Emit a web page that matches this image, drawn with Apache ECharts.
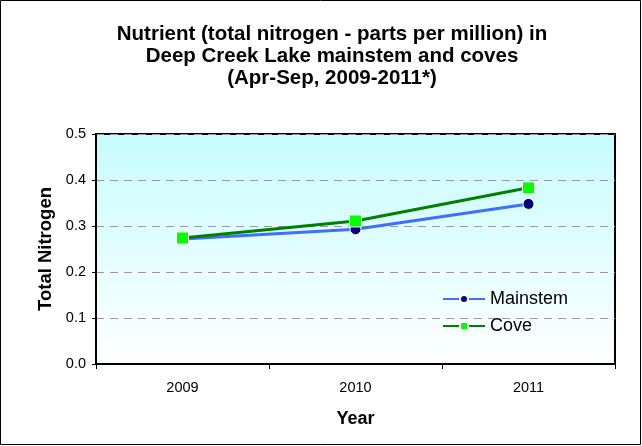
<!DOCTYPE html>
<html><head><meta charset="utf-8">
<script src="https://cdn.jsdelivr.net/npm/echarts@6/dist/echarts.min.js"></script>
<style>html,body{margin:0;padding:0;background:#fff}#c{width:642px;height:446px}</style>
</head><body><div id="c"></div>
<script>
var years = ['2009', '2010', '2011'];
var mainstem = [0.272, 0.293, 0.348];
var cove = [0.274, 0.311, 0.383];
var yTicks = [0, 0.1, 0.2, 0.3, 0.4, 0.5];

var chart = echarts.init(document.getElementById('c'), null, {renderer: 'canvas'});
var font = 'Liberation Sans, Arial, sans-serif';
chart.setOption({
  animation: false,
  backgroundColor: '#fff',
  graphic: [{type: 'rect', shape: {x: 0.5, y: 0.5, width: 640, height: 444}, style: {fill: 'none', stroke: '#000', lineWidth: 1}, z: 100}],
  title: {
    text: 'Nutrient (total nitrogen - parts per million) in\nDeep Creek Lake mainstem and coves\n(Apr-Sep, 2009-2011*)',
    left: 327, textAlign: 'center', top: 18,
    textStyle: {fontFamily: font, fontSize: 20.5, fontWeight: 'bold', color: '#000', lineHeight: 22}
  },
  grid: {
    left: 96, right: 27, top: 134, bottom: 82, show: true,
    borderColor: '#000', borderWidth: 2,
    backgroundColor: {type: 'linear', x: 0, y: 0, x2: 0, y2: 1, colorStops: [{offset: 0, color: '#c6fcfe'}, {offset: 1, color: '#ffffff'}]}
  },
  legend: {
    orient: 'vertical', left: 437, top: 285, itemGap: 9,
    itemWidth: 42, itemHeight: 10,
    textStyle: {fontFamily: font, fontSize: 18, color: '#000'},
    data: ['Mainstem', 'Cove']
  },
  xAxis: {
    type: 'category', data: years, boundaryGap: true,
    name: 'Year', nameLocation: 'middle', nameGap: 46,
    nameTextStyle: {fontFamily: font, fontSize: 18, fontWeight: 'bold', color: '#000'},
    axisLine: {lineStyle: {color: '#000', width: 2}},
    axisTick: {show: true, length: 5, lineStyle: {color: '#000'}},
    axisLabel: {fontFamily: font, fontSize: 14.5, color: '#000', margin: 16}
  },
  yAxis: {
    type: 'value', min: 0, max: 0.5, interval: 0.1,
    name: 'Total Nitrogen', nameLocation: 'middle', nameGap: 40,
    nameTextStyle: {fontFamily: font, fontSize: 18.5, fontWeight: 'bold', color: '#000'},
    axisLine: {show: true, lineStyle: {color: '#000', width: 2}},
    axisTick: {show: true, length: 4, lineStyle: {color: '#000'}},
    axisLabel: {fontFamily: font, fontSize: 14.5, color: '#000', margin: 10,
      formatter: function (v) { return v.toFixed(1); }},
    splitLine: {show: true, lineStyle: {color: '#999', type: [8, 6], width: 1}}
  },
  series: [
    {name: 'Mainstem', type: 'line', data: mainstem, symbol: 'circle', symbolSize: 11,
     lineStyle: {color: '#3f6fff', width: 3},
     itemStyle: {color: '#000080', borderColor: '#fff', borderWidth: 1}, z: 2},
    {name: 'Cove', type: 'line', data: cove, symbol: 'rect', symbolSize: 12,
     lineStyle: {color: '#008000', width: 3},
     itemStyle: {color: '#00ff00', borderColor: '#fff', borderWidth: 1}, z: 3}
  ]
});
</script></body></html>
